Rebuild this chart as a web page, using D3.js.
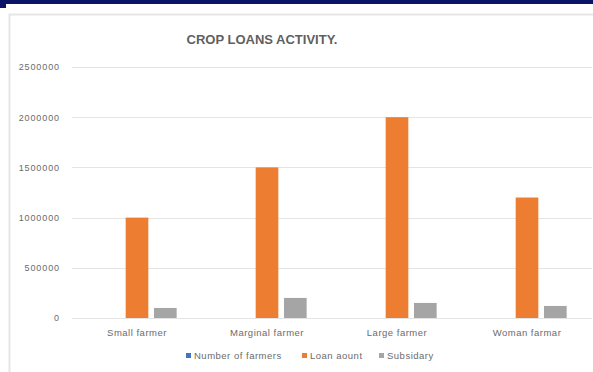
<!DOCTYPE html>
<html>
<head>
<meta charset="utf-8">
<script src="https://cdn.jsdelivr.net/npm/d3@7"></script>
<style>
  html, body { margin: 0; padding: 0; background: #ffffff; }
  svg { display: block; }
  text { font-family: "Liberation Sans", Arial, sans-serif; }
</style>
</head>
<body>
<svg id="chart" width="593" height="372"></svg>
<script>
// Crop loan activity by farmer type
const categories = ["Small farmer", "Marginal farmer", "Large farmer", "Woman farmar"];
const seriesNames = ["Number of farmers", "Loan aount", "Subsidary"];
const numberOfFarmers = [0, 0, 0, 0];
const loanAmount = [1000000, 1500000, 2000000, 1200000];
const subsidy = [100000, 200000, 150000, 120000];
const yTicks = [0, 500000, 1000000, 1500000, 2000000, 2500000];
const title = "CROP LOANS ACTIVITY.";

const colors = ["#4472c4", "#ed7d31", "#a5a5a5"];
const seriesValues = [numberOfFarmers, loanAmount, subsidy];
const textColor = "#6b6b6b";

const svg = d3.select("#chart");
const W = 593, H = 372;

// slide header strip
svg.append("rect").attr("x", 0).attr("y", 0).attr("width", W).attr("height", 4).attr("fill", "#0b1467");
svg.append("rect").attr("x", 0).attr("y", 4).attr("width", 6).attr("height", 4).attr("fill", "#0b1467");

// chart frame
svg.append("rect").attr("x", 9.5).attr("y", 14.5).attr("width", 600).attr("height", 370)
  .attr("fill", "#ffffff").attr("stroke", "#e6e6e6").attr("stroke-width", 2);

const plot = { left: 72, right: 592, top: 67, bottom: 318 };

const x0 = d3.scaleBand().domain(categories).range([plot.left, plot.right]).paddingInner(0.39).paddingOuter(0.195);
const x1 = d3.scaleBand().domain(seriesNames).range([0, x0.bandwidth()]).paddingInner(0.2);
const y = d3.scaleLinear().domain([0, 2500000]).range([plot.bottom, plot.top]);

// gridlines
svg.append("g").selectAll("line").data(yTicks).join("line")
  .attr("x1", plot.left).attr("x2", plot.right)
  .attr("y1", d => Math.round(y(d)) + 0.5).attr("y2", d => Math.round(y(d)) + 0.5)
  .attr("stroke", "#e4e4e4").attr("stroke-width", 1);

// y axis labels
const yAxis = d3.axisLeft(y).tickValues(yTicks).tickSize(0).tickPadding(0).tickFormat(d3.format("d"));
const yg = svg.append("g").attr("transform", `translate(${60},0)`).call(yAxis);
yg.select(".domain").remove();
yg.selectAll("text").attr("fill", textColor).style("font-size", "9px").style("letter-spacing", "0.9px");

// bars
const groups = svg.append("g").selectAll("g").data(categories).join("g")
  .attr("transform", d => `translate(${x0(d)},0)`);
groups.selectAll("rect")
  .data((c, i) => seriesNames.map((s, k) => ({ s, k, v: seriesValues[k][i] })))
  .join("rect")
  .attr("x", d => x1(d.s))
  .attr("width", x1.bandwidth())
  .attr("y", d => y(d.v))
  .attr("height", d => y(0) - y(d.v))
  .attr("fill", d => colors[d.k]);

// category axis
const xAxis = d3.axisBottom(x0).tickSize(0).tickPadding(0);
const xg = svg.append("g").attr("transform", `translate(0,${336})`).call(xAxis);
xg.select(".domain").remove();
xg.selectAll("text").attr("fill", textColor).style("font-size", "9.5px").style("letter-spacing", "0.5px").attr("dy", 0);

// title
svg.append("text").attr("x", 262).attr("y", 44).attr("text-anchor", "middle")
  .attr("fill", "#5f5f5f").style("font-size", "13px").style("font-weight", "bold").text(title);

// legend
const legendX = [186, 302, 379];
const lg = svg.append("g").selectAll("g").data(seriesNames).join("g")
  .attr("transform", (d, i) => `translate(${legendX[i]},${356})`);
lg.append("rect").attr("x", 0).attr("y", -3).attr("width", 5).attr("height", 5).attr("fill", (d, i) => colors[i]);
lg.append("text").attr("x", 8).attr("y", 3).attr("fill", textColor).style("font-size", "9.5px").style("letter-spacing", "0.5px").text(d => d);
</script>
</body>
</html>
